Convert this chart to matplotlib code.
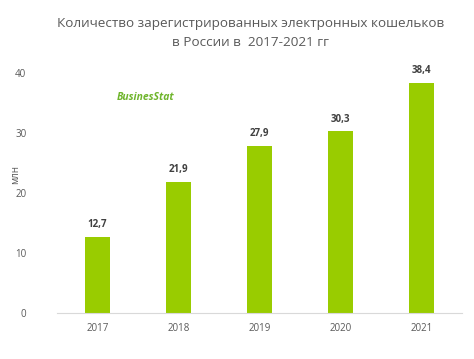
import matplotlib
matplotlib.use("Agg")
import matplotlib.pyplot as plt

years = ["2017", "2018", "2019", "2020", "2021"]
values = [12.7, 21.9, 27.9, 30.3, 38.4]
value_labels = ["12,7", "21,9", "27,9", "30,3", "38,4"]
yticks = [0, 10, 20, 30, 40]

plt.rcParams['font.family'] = ['Open Sans', 'DejaVu Sans']

fig = plt.figure(figsize=(4.74, 3.59), dpi=100)
ax = fig.add_axes([0.1203, 0.128, 0.8544, 0.6687])

x = list(range(len(years)))
ax.bar(x, values, width=0.31, color="#99cc00")
for xi, v, lab in zip(x, values, value_labels):
    ax.text(xi, v + 1.1, lab, ha="center", va="bottom", fontsize=7,
            fontweight="bold", color="#404040")

ax.set_xlim(-0.5, len(years) - 0.5)
ax.set_ylim(0, 40)
ax.set_xticks(x)
ax.set_xticklabels(years)
ax.set_yticks(yticks)
ax.tick_params(axis="both", length=0, labelsize=7, colors="#595959")
ax.tick_params(axis="x", pad=7)
ax.tick_params(axis="y", pad=22)
for s in ["top", "right", "left"]:
    ax.spines[s].set_visible(False)
ax.spines["bottom"].set_color("#d9d9d9")

fig.text(0.033, 0.515, "млн", rotation=90, ha="center", va="center",
         fontsize=7, color="#595959")

fig.text(0.528, 0.908, "Количество зарегистрированных электронных кошельков\nв России в  2017-2021 гг",
         ha="center", va="center", fontsize=9.7, color="#595959", linespacing=1.55)

fig.text(0.247, 0.728, "BusinesStat", ha="left", va="center", fontsize=7.5,
         fontweight="bold", fontstyle="italic", color="#6fb52c")

fig.savefig("out.png", dpi=100)
